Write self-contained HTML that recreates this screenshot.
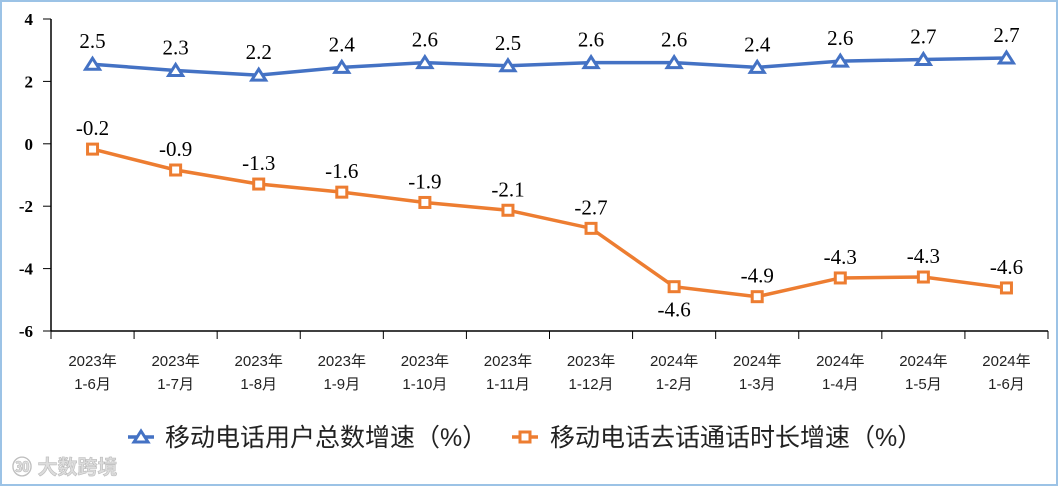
<!DOCTYPE html>
<html><head><meta charset="utf-8"><style>
body{margin:0;background:#fff}
#c{position:absolute;left:0;top:0;width:1058px;height:486px;box-sizing:border-box;border:2px solid #9cc3e6;background:#fff}
svg{position:absolute;left:-2px;top:-2px}
</style></head><body>
<div id="c">
<svg id="s" width="1058" height="486"></svg>
</div>
<script>
const cats1=["2023年","2023年","2023年","2023年","2023年","2023年","2023年","2024年","2024年","2024年","2024年","2024年"];
const cats2=["1-6月","1-7月","1-8月","1-9月","1-10月","1-11月","1-12月","1-2月","1-3月","1-4月","1-5月","1-6月"];
const users=[2.55,2.35,2.2,2.45,2.6,2.5,2.6,2.6,2.45,2.65,2.7,2.75];
const userLabels=["2.5","2.3","2.2","2.4","2.6","2.5","2.6","2.6","2.4","2.6","2.7","2.7"];
const calls=[-0.17,-0.84,-1.29,-1.55,-1.88,-2.13,-2.71,-4.58,-4.9,-4.3,-4.27,-4.62];
const callLabels=["-0.2","-0.9","-1.3","-1.6","-1.9","-2.1","-2.7","-4.6","-4.9","-4.3","-4.3","-4.6"];
const yTicks=[4,2,0,-2,-4,-6];
const NS="http://www.w3.org/2000/svg",s=document.getElementById('s');
const x0=51,x1=1048,yTop=19,yBot=331,vMax=4,vMin=-6;
const bw=(x1-x0)/cats1.length;
const X=i=>x0+bw*(i+0.5);
const Y=v=>yTop+(vMax-v)/(vMax-vMin)*(yBot-yTop);
function el(t,a,txt){const e=document.createElementNS(NS,t);for(const k in a)e.setAttribute(k,a[k]);if(txt!=null)e.textContent=txt;s.appendChild(e);return e;}
const serif='"Liberation Serif",serif';
const cjk='"Liberation Sans","Noto Sans CJK SC",sans-serif';
let e=el('line',{x1:x0,y1:yTop,x2:x0,y2:yBot,stroke:'#000','stroke-width':1.5});

e=el('line',{x1:x0,y1:yBot,x2:x1,y2:yBot,stroke:'#000','stroke-width':1.5});

yTicks.forEach(v=>{
 el('line',{x1:x0-8,y1:Y(v),x2:x0,y2:Y(v),stroke:'#000'});
 const t=el('text',{x:33,y:Y(v)+6,'text-anchor':'end','font-family':serif,'font-size':17,'font-weight':'bold'},v);
 
});
for(let i=0;i<=cats1.length;i++)el('line',{x1:x0+bw*i,y1:yBot,x2:x0+bw*i,y2:yBot+8,stroke:'#000'});
cats1.forEach((c,i)=>{
 let t=el('text',{x:X(i),y:366,'text-anchor':'middle','font-family':cjk,'font-size':15,fill:'#222'},c);
 
 t=el('text',{x:X(i),y:389,'text-anchor':'middle','font-family':cjk,'font-size':15,fill:'#222'},cats2[i]);
 
});
const blue='#4472c4',orange='#ed7d31';
e=el('polyline',{points:users.map((v,i)=>X(i)+','+Y(v)).join(' '),fill:'none',stroke:blue,'stroke-width':3.5});

e=el('polyline',{points:calls.map((v,i)=>X(i)+','+Y(v)).join(' '),fill:'none',stroke:orange,'stroke-width':3.5});

function tri(cx,cy){return `${cx},${cy-6} ${cx-7},${cy+5} ${cx+7},${cy+5}`;}
users.forEach((v,i)=>{
 let m=el('polygon',{points:tri(X(i),Y(v)),fill:'#fff',stroke:blue,'stroke-width':3});
 
 let t=el('text',{x:X(i),y:Y(v)-16,'text-anchor':'middle','font-family':serif,'font-size':21},userLabels[i]);
 
});
calls.forEach((v,i)=>{
 let m=el('rect',{x:X(i)-5,y:Y(v)-5,width:10,height:10,fill:'#fff',stroke:orange,'stroke-width':3});
 
 const below=(i===7);
 let t=el('text',{x:X(i),y:below?Y(v)+30:Y(v)-14,'text-anchor':'middle','font-family':serif,'font-size':21},callLabels[i]);
 
});
// legend
el('line',{x1:128,y1:437,x2:154,y2:437,stroke:blue,'stroke-width':3.5});
el('polygon',{points:tri(141,437),fill:'#fff',stroke:blue,'stroke-width':3});
e=el('text',{x:165,y:446,'font-family':cjk,'font-size':25,fill:'#222'},'移动电话用户总数增速（%）');

el('line',{x1:512,y1:437,x2:538,y2:437,stroke:orange,'stroke-width':3.5});
el('rect',{x:520,y:432,width:10,height:10,fill:'#fff',stroke:orange,'stroke-width':3});
e=el('text',{x:550,y:446,'font-family':cjk,'font-size':25,fill:'#222'},'移动电话去话通话时长增速（%）');

e=el('text',{x:12,y:474,'font-family':cjk,'font-size':20,'font-weight':'bold',fill:'#ddd',stroke:'#bbb','stroke-width':0.6},'㉚ 大数跨境');

</script>
</body></html>
